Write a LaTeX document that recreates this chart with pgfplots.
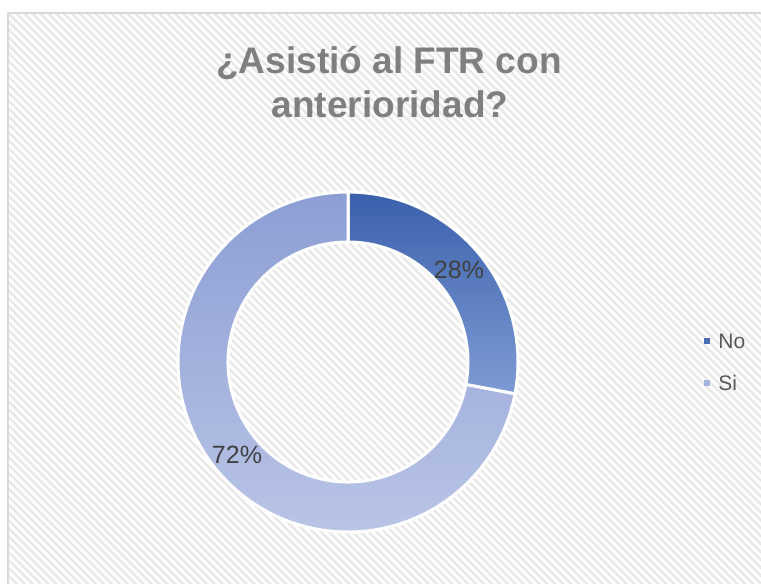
\documentclass[border=0pt]{standalone}
\usepackage{pgfplots}
\pgfplotsset{compat=1.18}
\usepackage{pgfplotstable}
\usepackage{fontspec}
\setmainfont{Liberation Sans}
\usetikzlibrary{patterns.meta}
\definecolor{noTop}{HTML}{3A60AC}
\definecolor{noBot}{HTML}{7E9BD4}
\definecolor{siTop}{HTML}{8C9ED4}
\definecolor{siBot}{HTML}{B9C4E6}
\definecolor{noLeg}{HTML}{4A6EB6}
\definecolor{siLeg}{HTML}{A4B3E0}
\definecolor{titleGray}{HTML}{7F7F7F}
\definecolor{frameGray}{HTML}{D9D9D9}
\pgfplotstableread{
label value
No 28
Si 72
}\donutdata
\begin{document}
\begin{tikzpicture}
\begin{axis}[width=380.5pt,height=291.5pt,scale only axis,
  xmin=0,xmax=761,ymin=0,ymax=583,hide axis,clip=true]
\path (axis cs:0,0) rectangle (axis cs:761,583);
% background
\fill[white] (axis cs:7,0) rectangle (axis cs:761,570);
\fill[pattern={Lines[angle=-45,distance=2.8pt,line width=1.2pt]},pattern color=black!9]
  (axis cs:7,0) rectangle (axis cs:761,570);
\draw[frameGray,line width=1pt] (axis cs:7.5,0) -- (axis cs:7.5,569.5) -- (axis cs:761,569.5);
% data
\pgfplotstablegetelem{0}{value}\of\donutdata \let\vNo\pgfplotsretval
\pgfplotstablegetelem{1}{value}\of\donutdata \let\vSi\pgfplotsretval
\pgfmathsetmacro\aNo{90-360*\vNo/100}
\pgfmathsetmacro\xi{348+120*cos(\aNo)}
\pgfmathsetmacro\yi{221+120*sin(\aNo)}
% No slice
\shade[top color=noTop,bottom color=noBot,draw=white,line width=1.5pt]
  (axis cs:348,391) arc[start angle=90,end angle=\aNo,radius=85pt]
  -- (axis cs:\xi,\yi) arc[start angle=\aNo,end angle=90,radius=60pt] -- cycle;
% Si slice
\shade[top color=siTop,bottom color=siBot,draw=white,line width=1.5pt]
  (axis cs:\xi,\yi) arc[start angle=\aNo,end angle=-270,radius=60pt]
  -- (axis cs:348,391) arc[start angle=90,end angle=\aNo+360,radius=85pt] -- cycle;
% labels
\node[font=\fontsize{12.5}{15}\selectfont,text=black!75] at (axis cs:459,313) {\vNo\%};
\node[font=\fontsize{12.5}{15}\selectfont,text=black!75] at (axis cs:237,128) {\vSi\%};
% title
\node[anchor=base,font=\fontsize{18.5}{22}\selectfont\bfseries,text=titleGray] at (axis cs:389,509) {¿Asistió al FTR con};
\node[anchor=base,font=\fontsize{18.5}{22}\selectfont\bfseries,text=titleGray] at (axis cs:390,465) {anterioridad?};
% legend
\fill[noLeg] (axis cs:704,239) rectangle (axis cs:710,245);
\node[anchor=west,font=\fontsize{10.5}{12}\selectfont,text=black!65,inner sep=0pt] at (axis cs:718,242) {No};
\fill[siLeg] (axis cs:704,197) rectangle (axis cs:710,203);
\node[anchor=west,font=\fontsize{10.5}{12}\selectfont,text=black!65,inner sep=0pt] at (axis cs:718,200) {Si};
\end{axis}
\end{tikzpicture}
\end{document}
